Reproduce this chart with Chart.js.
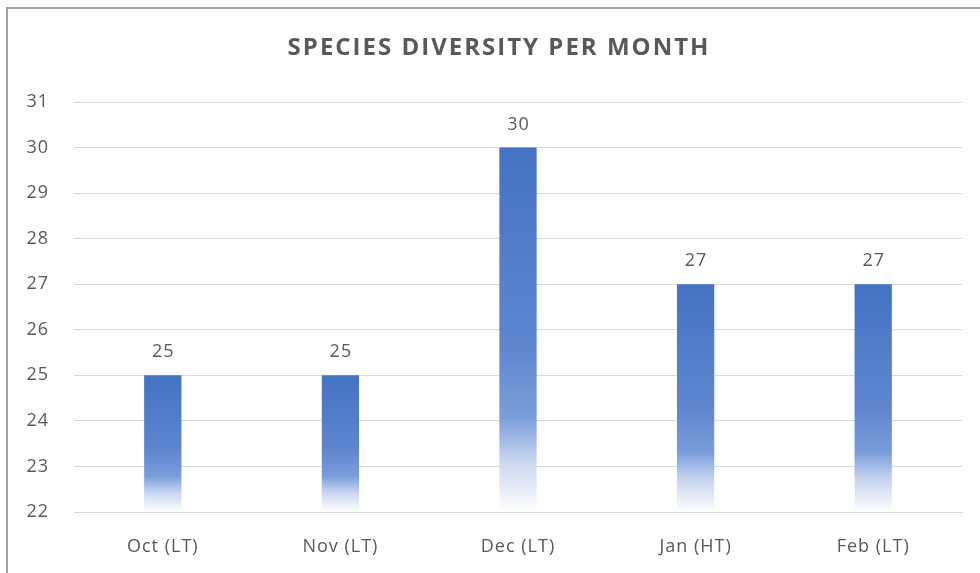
<!DOCTYPE html>
<html>
<head>
<meta charset="utf-8">
<script src="https://cdn.jsdelivr.net/npm/chart.js@4.4.1/dist/chart.umd.min.js"></script>
<style>
  html, body { margin: 0; padding: 0; background: #fff; }
  #wrap { position: relative; width: 980px; height: 573px; overflow: hidden; }
  #frame { position: absolute; left: 6px; top: 7px; width: 990px; height: 600px; border: 2px solid #a0a0a0; box-sizing: border-box; }
  canvas { position: absolute; left: 0; top: 0; }
</style>
</head>
<body>
<div id="wrap">
  <div id="frame"></div>
  <canvas id="c" width="980" height="573"></canvas>
</div>
<script>
const categories = ["Oct (LT)", "Nov (LT)", "Dec (LT)", "Jan (HT)", "Feb (LT)"];
const speciesCounts = [25, 25, 30, 27, 27];
const yTicks = [22, 23, 24, 25, 26, 27, 28, 29, 30, 31];
const chartTitle = "SPECIES DIVERSITY PER MONTH";

const textColor = "#595959";
const fontFamily = "'Open Sans', sans-serif";

function barGradient(ctx) {
  const chart = ctx.chart;
  const { chartArea, scales } = chart;
  if (!chartArea) return "#4472C4";
  const v = ctx.raw;
  const top = scales.y.getPixelForValue(v);
  const bottom = scales.y.getPixelForValue(scales.y.min);
  const g = chart.ctx.createLinearGradient(0, top, 0, bottom);
  g.addColorStop(0, "#4472C4");
  g.addColorStop(0.55, "#5f86cf");
  g.addColorStop(0.74, "#7c9ddb");
  g.addColorStop(0.86, "#c9d6ef");
  g.addColorStop(1, "#ffffff");
  return g;
}

const letterSpacer = {
  id: "letterSpacer",
  beforeDraw(chart) {
    if ('letterSpacing' in chart.ctx) chart.ctx.letterSpacing = "1px";
  }
};

const valueLabels = {
  id: "valueLabels",
  afterDatasetsDraw(chart) {
    const { ctx } = chart;
    const meta = chart.getDatasetMeta(0);
    ctx.save();
    ctx.fillStyle = textColor;
    ctx.font = "18px " + fontFamily;
    if ('letterSpacing' in ctx) ctx.letterSpacing = "1px";
    ctx.textAlign = "center";
    ctx.textBaseline = "alphabetic";
    meta.data.forEach((bar, i) => {
      ctx.fillText(String(chart.data.datasets[0].data[i]), bar.x + 0.5, bar.y - 18);
    });
    ctx.restore();
  }
};

const spacedTitle = {
  id: "spacedTitle",
  afterDraw(chart) {
    const { ctx } = chart;
    ctx.save();
    ctx.fillStyle = textColor;
    ctx.font = "bold 24px " + fontFamily;
    ctx.textAlign = "center";
    ctx.textBaseline = "middle";
    if ('letterSpacing' in ctx) ctx.letterSpacing = "2px";
    ctx.fillText(chartTitle, 499, 48);
    ctx.restore();
  }
};

new Chart(document.getElementById("c"), {
  type: "bar",
  data: {
    labels: categories,
    datasets: [{
      data: speciesCounts,
      backgroundColor: barGradient,
      borderWidth: 0,
      barPercentage: 1,
      categoryPercentage: 0.21
    }]
  },
  options: {
    responsive: false,
    animation: false,
    layout: { padding: { left: 0, right: 18, top: 102, bottom: 0 } },
    plugins: {
      legend: { display: false },
      tooltip: { enabled: false },
      title: { display: false }
    },
    scales: {
      x: {
        afterFit(s) { s.height = 61; },
        grid: { display: false, drawTicks: false },
        border: { display: true, color: "#d9d9d9", width: 1 },
        ticks: { color: textColor, font: { family: fontFamily, size: 18 }, padding: 24, maxRotation: 0 }
      },
      y: {
        min: 22,
        max: 31,
        afterFit(s) { s.width = 74; },
        afterBuildTicks(axis) { axis.ticks = yTicks.map(v => ({ value: v })); },
        grid: { color: "#d9d9d9", lineWidth: 1, drawTicks: false },
        border: { display: false },
        ticks: { color: textColor, font: { family: fontFamily, size: 18 }, padding: 25 }
      }
    }
  },
  plugins: [letterSpacer, valueLabels, spacedTitle]
});
</script>
</body>
</html>
